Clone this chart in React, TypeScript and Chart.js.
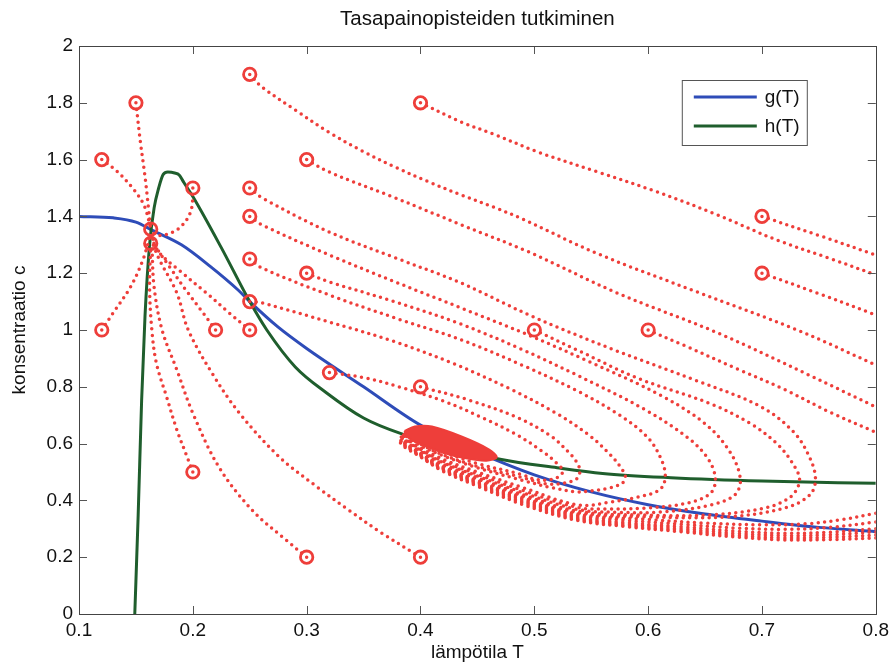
import React, { useEffect, useRef } from "react";
import { Chart, registerables } from "chart.js";
Chart.register(...registerables);

type Pt = [number, number];

const chartTitle = "Tasapainopisteiden tutkiminen";
const xAxisTitle = "lämpötila T";
const yAxisTitle = "konsentraatio c";
const seriesLabels = ["g(T)", "h(T)"];
const xTickValues = [0.1, 0.2, 0.3, 0.4, 0.5, 0.6, 0.7, 0.8];
const yTickValues = [0, 0.2, 0.4, 0.6, 0.8, 1, 1.2, 1.4, 1.6, 1.8, 2];

// g(T) nullcline
const gT = [0.10, 0.13, 0.15, 0.165, 0.19, 0.215, 0.24, 0.25, 0.275, 0.30, 0.35, 0.40, 0.45, 0.50, 0.55, 0.60, 0.65, 0.70, 0.75, 0.80];
const gC = [1.40, 1.395, 1.38, 1.35, 1.30, 1.225, 1.14, 1.10, 1.01, 0.935, 0.80, 0.665, 0.57, 0.49, 0.43, 0.385, 0.352, 0.327, 0.305, 0.29];
// h(T) nullcline
const hT = [0.149, 0.152, 0.155, 0.158, 0.162, 0.166, 0.170, 0.174, 0.178, 0.184, 0.188, 0.192, 0.20, 0.225, 0.25, 0.265, 0.29, 0.317, 0.35, 0.383, 0.42, 0.47, 0.52, 0.56, 0.62, 0.70, 0.80];
const hC = [0.0, 0.35, 0.75, 1.05, 1.3, 1.43, 1.5, 1.548, 1.556, 1.553, 1.546, 1.52, 1.47, 1.29, 1.10, 1.0, 0.87, 0.78, 0.69, 0.635, 0.595, 0.545, 0.515, 0.495, 0.48, 0.468, 0.46];

// start points (circles)
const startPoints: Pt[] = [
  [0.15, 1.8], [0.12, 1.6], [0.12, 1.0], [0.2, 1.5], [0.22, 1.0], [0.25, 1.0], [0.2, 0.5], [0.3, 0.2], [0.4, 0.2],
  [0.163, 1.355], [0.163, 1.305], [0.25, 1.9], [0.4, 1.8], [0.3, 1.6], [0.25, 1.5], [0.25, 1.4], [0.25, 1.25],
  [0.25, 1.1], [0.3, 1.2], [0.32, 0.85], [0.4, 0.8], [0.5, 1.0], [0.6, 1.0], [0.7, 1.4], [0.7, 1.2],
];

// trajectories into the node near (0.163, 1.35)
const trajA: Pt[] = [[0.15, 1.8], [0.154, 1.66], [0.158, 1.54], [0.161, 1.43], [0.163, 1.35]];
const trajB: Pt[] = [[0.12, 1.6], [0.133, 1.56], [0.147, 1.5], [0.157, 1.44], [0.163, 1.36]];
const trajC: Pt[] = [[0.12, 1.0], [0.13, 1.06], [0.145, 1.15], [0.156, 1.245], [0.163, 1.34]];
const trajD: Pt[] = [[0.2, 1.5], [0.199, 1.43], [0.194, 1.385], [0.185, 1.35], [0.172, 1.333], [0.164, 1.342]];
const trajE: Pt[] = [[0.22, 1.0], [0.209, 1.06], [0.194, 1.14], [0.18, 1.22], [0.168, 1.29], [0.164, 1.33]];
const trajF: Pt[] = [[0.25, 1.0], [0.232, 1.06], [0.212, 1.13], [0.188, 1.21], [0.171, 1.27], [0.164, 1.32]];
const trajG: Pt[] = [[0.2, 0.5], [0.195, 0.553], [0.186, 0.648], [0.177, 0.764], [0.168, 0.883], [0.164, 1.0], [0.162, 1.15], [0.163, 1.3]];
const trajH: Pt[] = [[0.3, 0.2], [0.282, 0.26], [0.252, 0.366], [0.223, 0.517], [0.2, 0.707], [0.186, 0.859], [0.173, 1.0], [0.166, 1.15], [0.164, 1.3]];
const trajI: Pt[] = [[0.4, 0.2], [0.366, 0.285], [0.337, 0.366], [0.31, 0.445], [0.276, 0.553], [0.241, 0.707], [0.217, 0.847], [0.196, 1.0], [0.186, 1.13], [0.171, 1.245], [0.164, 1.31]];

// trajectories spiralling into the focus near (0.43, 0.59)
const trajH1: Pt[] = [[0.32, 0.85], [0.352, 0.831], [0.381, 0.80], [0.42, 0.75], [0.455, 0.69], [0.485, 0.63], [0.508, 0.57], [0.52, 0.53], [0.525, 0.505],
  [0.522, 0.485], [0.512, 0.472], [0.5, 0.475], [0.49, 0.49], [0.45, 0.53], [0.42, 0.57], [0.40, 0.605], [0.392, 0.63], [0.398, 0.65], [0.41, 0.657]];
const trajH2: Pt[] = [[0.4, 0.8], [0.442, 0.754], [0.486, 0.69], [0.515, 0.625], [0.53, 0.57], [0.538, 0.53], [0.54, 0.5],
  [0.537, 0.475], [0.525, 0.46], [0.51, 0.458], [0.49, 0.48], [0.45, 0.52], [0.42, 0.56], [0.40, 0.598], [0.39, 0.627], [0.397, 0.649], [0.41, 0.657]];
const trajC1: Pt[] = [[0.25, 1.1], [0.261, 1.095], [0.32, 1.028], [0.378, 0.958], [0.43, 0.88], [0.48, 0.79], [0.52, 0.705], [0.548, 0.63], [0.567, 0.56], [0.577, 0.51], [0.58, 0.483],
  [0.577, 0.46], [0.565, 0.443], [0.55, 0.434], [0.538, 0.43], [0.515, 0.445], [0.49, 0.47], [0.45, 0.515], [0.42, 0.557], [0.40, 0.593], [0.389, 0.628], [0.396, 0.649], [0.41, 0.656]];
const trajC2: Pt[] = [[0.25, 1.25], [0.261, 1.218], [0.32, 1.123], [0.378, 1.042], [0.436, 0.965], [0.49, 0.875], [0.538, 0.785], [0.575, 0.7], [0.6, 0.62], [0.612, 0.54], [0.615, 0.48],
  [0.61, 0.437], [0.591, 0.412], [0.567, 0.394], [0.538, 0.384], [0.49, 0.445], [0.45, 0.5], [0.42, 0.545], [0.40, 0.585], [0.388, 0.624], [0.395, 0.648], [0.41, 0.657]];
const trajC3: Pt[] = [[0.3, 1.2], [0.32, 1.169], [0.378, 1.099], [0.436, 1.02], [0.49, 0.93], [0.538, 0.84], [0.597, 0.72], [0.635, 0.62], [0.652, 0.55], [0.659, 0.48],
  [0.655, 0.426], [0.635, 0.391], [0.597, 0.373], [0.565, 0.37], [0.538, 0.375], [0.49, 0.435], [0.45, 0.492], [0.42, 0.538], [0.40, 0.58], [0.388, 0.622], [0.394, 0.646], [0.41, 0.656]];
const trajC4: Pt[] = [[0.25, 1.4], [0.261, 1.37], [0.32, 1.264], [0.378, 1.169], [0.436, 1.077], [0.495, 0.982], [0.55, 0.885], [0.611, 0.77], [0.65, 0.67], [0.672, 0.57], [0.681, 0.475],
  [0.676, 0.419], [0.655, 0.384], [0.611, 0.359], [0.575, 0.358], [0.538, 0.368], [0.49, 0.427], [0.45, 0.486], [0.42, 0.533], [0.40, 0.577], [0.387, 0.62], [0.393, 0.646], [0.41, 0.656]];
const trajC5: Pt[] = [[0.5, 1.0], [0.54, 0.925], [0.591, 0.83], [0.655, 0.74], [0.69, 0.67], [0.713, 0.6], [0.727, 0.53], [0.733, 0.47],
  [0.725, 0.412], [0.702, 0.373], [0.655, 0.349], [0.6, 0.348], [0.538, 0.362], [0.49, 0.42], [0.45, 0.48], [0.42, 0.528], [0.40, 0.573], [0.386, 0.618], [0.392, 0.645], [0.41, 0.656]];
const trajC6: Pt[] = [[0.25, 1.5], [0.261, 1.465], [0.32, 1.345], [0.378, 1.254], [0.436, 1.165], [0.497, 1.05], [0.57, 0.93], [0.641, 0.824], [0.699, 0.73], [0.728, 0.64], [0.742, 0.55], [0.747, 0.475],
  [0.742, 0.419], [0.72, 0.373], [0.67, 0.342], [0.6, 0.342], [0.538, 0.357], [0.49, 0.415], [0.45, 0.475], [0.42, 0.523], [0.40, 0.57], [0.385, 0.617], [0.391, 0.645], [0.41, 0.656]];

// trajectories leaving through the right edge
const trajE1: Pt[] = [[0.4, 1.8], [0.436, 1.732], [0.466, 1.687], [0.503, 1.627], [0.556, 1.556], [0.608, 1.486], [0.661, 1.405], [0.713, 1.317], [0.761, 1.25], [0.8, 1.194]];
const trajE2: Pt[] = [[0.7, 1.4], [0.75, 1.333], [0.8, 1.264]];
const trajE3: Pt[] = [[0.7, 1.2], [0.75, 1.128], [0.8, 1.053]];
const trajE4: Pt[] = [[0.25, 1.9], [0.261, 1.855], [0.291, 1.772], [0.32, 1.695], [0.349, 1.63], [0.378, 1.573], [0.407, 1.522], [0.436, 1.475], [0.466, 1.43], [0.49, 1.39], [0.556, 1.268], [0.643, 1.134], [0.731, 1.0], [0.8, 0.877]];
const trajE5: Pt[] = [[0.3, 1.6], [0.32, 1.556], [0.378, 1.465], [0.436, 1.37], [0.495, 1.275], [0.573, 1.13], [0.661, 0.99], [0.742, 0.84], [0.8, 0.729]];
const trajE6: Pt[] = [[0.6, 1.0], [0.632, 0.945], [0.68, 0.86], [0.72, 0.79], [0.76, 0.71], [0.8, 0.64]];

// the same trajectories coming back in through the right edge
const trajR6: Pt[] = [[0.8, 0.355], [0.77, 0.332], [0.74, 0.318], [0.7, 0.314], [0.65, 0.32], [0.6, 0.333], [0.538, 0.352], [0.49, 0.41], [0.45, 0.47], [0.42, 0.519], [0.40, 0.566], [0.385, 0.615], [0.391, 0.644], [0.41, 0.655]];
const trajR5: Pt[] = [[0.8, 0.324], [0.76, 0.305], [0.72, 0.298], [0.68, 0.302], [0.63, 0.316], [0.58, 0.33], [0.538, 0.347], [0.49, 0.405], [0.45, 0.466], [0.42, 0.515], [0.40, 0.563], [0.384, 0.613], [0.39, 0.643], [0.41, 0.655]];
const trajR4: Pt[] = [[0.8, 0.30], [0.76, 0.288], [0.72, 0.284], [0.68, 0.291], [0.63, 0.307], [0.58, 0.322], [0.538, 0.342], [0.49, 0.40], [0.45, 0.462], [0.42, 0.511], [0.40, 0.56], [0.384, 0.611], [0.39, 0.642], [0.41, 0.655]];
const trajR3: Pt[] = [[0.8, 0.289], [0.76, 0.279], [0.72, 0.276], [0.68, 0.283], [0.63, 0.30], [0.58, 0.317], [0.538, 0.337], [0.49, 0.395], [0.45, 0.458], [0.42, 0.508], [0.40, 0.557], [0.383, 0.609], [0.389, 0.641], [0.41, 0.655]];
const trajR1: Pt[] = [[0.8, 0.278], [0.76, 0.27], [0.72, 0.268], [0.68, 0.276], [0.63, 0.294], [0.58, 0.312], [0.538, 0.333], [0.49, 0.39], [0.45, 0.454], [0.42, 0.505], [0.40, 0.555], [0.383, 0.607], [0.389, 0.64], [0.41, 0.655]];
const trajR2: Pt[] = [[0.8, 0.268], [0.76, 0.262], [0.72, 0.261], [0.68, 0.27], [0.63, 0.289], [0.58, 0.308], [0.538, 0.329], [0.49, 0.385], [0.45, 0.45], [0.42, 0.502], [0.40, 0.553], [0.382, 0.605], [0.388, 0.64], [0.41, 0.655]];

// dense spiral core around the focus (drawn filled)
const focusCore: Pt[] = [[0.386, 0.645], [0.395, 0.66], [0.41, 0.66], [0.436, 0.625], [0.46, 0.58], [0.467, 0.552], [0.458, 0.54], [0.44, 0.548], [0.42, 0.568], [0.398, 0.602], [0.388, 0.625], [0.386, 0.645]];

const trajectories: Pt[][] = [
  trajA, trajB, trajC, trajD, trajE, trajF, trajG, trajH, trajI,
  trajH1, trajH2, trajC1, trajC2, trajC3, trajC4, trajC5, trajC6,
  trajE1, trajE2, trajE3, trajE4, trajE5, trajE6,
  trajR6, trajR5, trajR4, trajR3, trajR1, trajR2,
];

const RED = "rgb(238,62,58)";
const BLUE = "#2e4cb8";
const GREEN = "#1f5e2d";
const FONT = "'Liberation Sans', Arial, Helvetica, sans-serif";
const FS = 19;

const toXY = (pts: Pt[]) => pts.map(([x, y]) => ({ x, y }));
const zipXY = (xs: number[], ys: number[]) => xs.map((x, i) => ({ x, y: ys[i] }));
const fmt = (v: number) => String(Number(Number(v).toFixed(2)));

const matlabFrame = {
  id: "matlabFrame",
  afterDatasetsDraw(chart: any) {
    const { ctx, chartArea: a, scales } = chart;
    ctx.save();
    ctx.strokeStyle = "#555";
    ctx.lineWidth = 1;
    ctx.beginPath();
    const tl = 8;
    xTickValues.forEach((v) => {
      const px = Math.round(scales.x.getPixelForValue(v)) + 0.5;
      ctx.moveTo(px, a.bottom); ctx.lineTo(px, a.bottom - tl);
      ctx.moveTo(px, a.top); ctx.lineTo(px, a.top + tl);
    });
    yTickValues.forEach((v) => {
      const py = Math.round(scales.y.getPixelForValue(v)) + 0.5;
      ctx.moveTo(a.left, py); ctx.lineTo(a.left + tl, py);
      ctx.moveTo(a.right, py); ctx.lineTo(a.right - tl, py);
    });
    ctx.stroke();
    ctx.strokeStyle = "#444";
    ctx.strokeRect(Math.round(a.left) + 0.5, Math.round(a.top) + 0.5, Math.round(a.right - a.left), Math.round(a.bottom - a.top));
    // title centred over the axes
    ctx.fillStyle = "#111";
    ctx.font = `20.5px ${FONT}`;
    ctx.textAlign = "center";
    ctx.textBaseline = "middle";
    ctx.fillText(chartTitle, (a.left + a.right) / 2, 19);
    // legend
    const lx = a.right - 194;
    const ly = a.top + 34;
    const lw = 125;
    const lh = 65;
    ctx.fillStyle = "#fff";
    ctx.fillRect(lx, ly, lw, lh);
    ctx.strokeStyle = "#555";
    ctx.strokeRect(lx + 0.5, ly + 0.5, lw, lh);
    const colors = [BLUE, GREEN];
    seriesLabels.forEach((lab, i) => {
      const yy = ly + 17 + i * 29;
      ctx.strokeStyle = colors[i];
      ctx.lineWidth = 3;
      ctx.beginPath();
      ctx.moveTo(lx + 12, yy);
      ctx.lineTo(lx + 75, yy);
      ctx.stroke();
      ctx.fillStyle = "#111";
      ctx.font = `${FS}px ${FONT}`;
      ctx.textAlign = "left";
      ctx.fillText(lab, lx + 83, yy + 1);
    });
    ctx.restore();
  },
};

export default function App() {
  const ref = useRef<HTMLCanvasElement>(null);
  useEffect(() => {
    document.body.style.margin = "0";
    const canvas = ref.current!;
    const trajSets = trajectories.map((pts) => ({
      data: toXY(pts),
      borderColor: RED,
      borderWidth: 3.5,
      borderDash: [0, 6.5],
      borderCapStyle: "round",
      pointRadius: 0,
      tension: 0.35,
      fill: false,
      order: 1,
    }));
    const chart = new Chart(canvas, {
      type: "line",
      data: {
        datasets: [
          {
            data: toXY(startPoints),
            showLine: false,
            pointRadius: 6.2,
            pointBorderWidth: 2.8,
            pointBorderColor: RED,
            pointBackgroundColor: "rgba(0,0,0,0)",
            order: 0,
          },
          {
            data: toXY(focusCore),
            borderColor: RED,
            backgroundColor: RED,
            borderWidth: 2,
            fill: "shape",
            pointRadius: 0,
            tension: 0.3,
            order: 1,
          },
          ...trajSets,
          { label: seriesLabels[0], data: zipXY(gT, gC), borderColor: BLUE, borderWidth: 3, pointRadius: 0, cubicInterpolationMode: "monotone", fill: false, order: 3 },
          { label: seriesLabels[1], data: zipXY(hT, hC), borderColor: GREEN, borderWidth: 3, pointRadius: 0, cubicInterpolationMode: "monotone", fill: false, order: 2 },
        ] as any,
      },
      options: {
        responsive: false,
        animation: false,
        devicePixelRatio: 1,
        layout: { padding: { left: 0, right: 15, top: 46, bottom: 0 } },
        plugins: { legend: { display: false }, title: { display: false }, tooltip: { enabled: false } },
        scales: {
          x: {
            type: "linear",
            min: 0.1,
            max: 0.8,
            afterBuildTicks: (s: any) => { s.ticks = xTickValues.map((v) => ({ value: v })); },
            afterFit: (s: any) => { s.height = 50; },
            grid: { display: false, drawTicks: false },
            border: { display: false },
            ticks: { padding: 5, maxRotation: 0, autoSkip: false, color: "#111", font: { family: FONT, size: FS }, callback: (v: any) => fmt(v) },
            title: { display: true, text: xAxisTitle, color: "#111", font: { family: FONT, size: FS }, padding: { top: 0, bottom: 0 } },
          },
          y: {
            type: "linear",
            min: 0,
            max: 2,
            afterBuildTicks: (s: any) => { s.ticks = yTickValues.map((v) => ({ value: v })); },
            afterFit: (s: any) => { s.width = 79; },
            grid: { display: false, drawTicks: false },
            border: { display: false },
            ticks: { padding: 6, color: "#111", font: { family: FONT, size: FS }, callback: (v: any) => fmt(v) },
            title: { display: true, text: yAxisTitle, color: "#111", font: { family: FONT, size: FS }, padding: { top: 8, bottom: 0 } },
          },
        },
      } as any,
      plugins: [matlabFrame],
    });
    return () => chart.destroy();
  }, []);
  return (
    <div style={{ width: 894, height: 664, background: "#fff" }}>
      <canvas ref={ref} width={894} height={664} style={{ display: "block" }} />
    </div>
  );
}
